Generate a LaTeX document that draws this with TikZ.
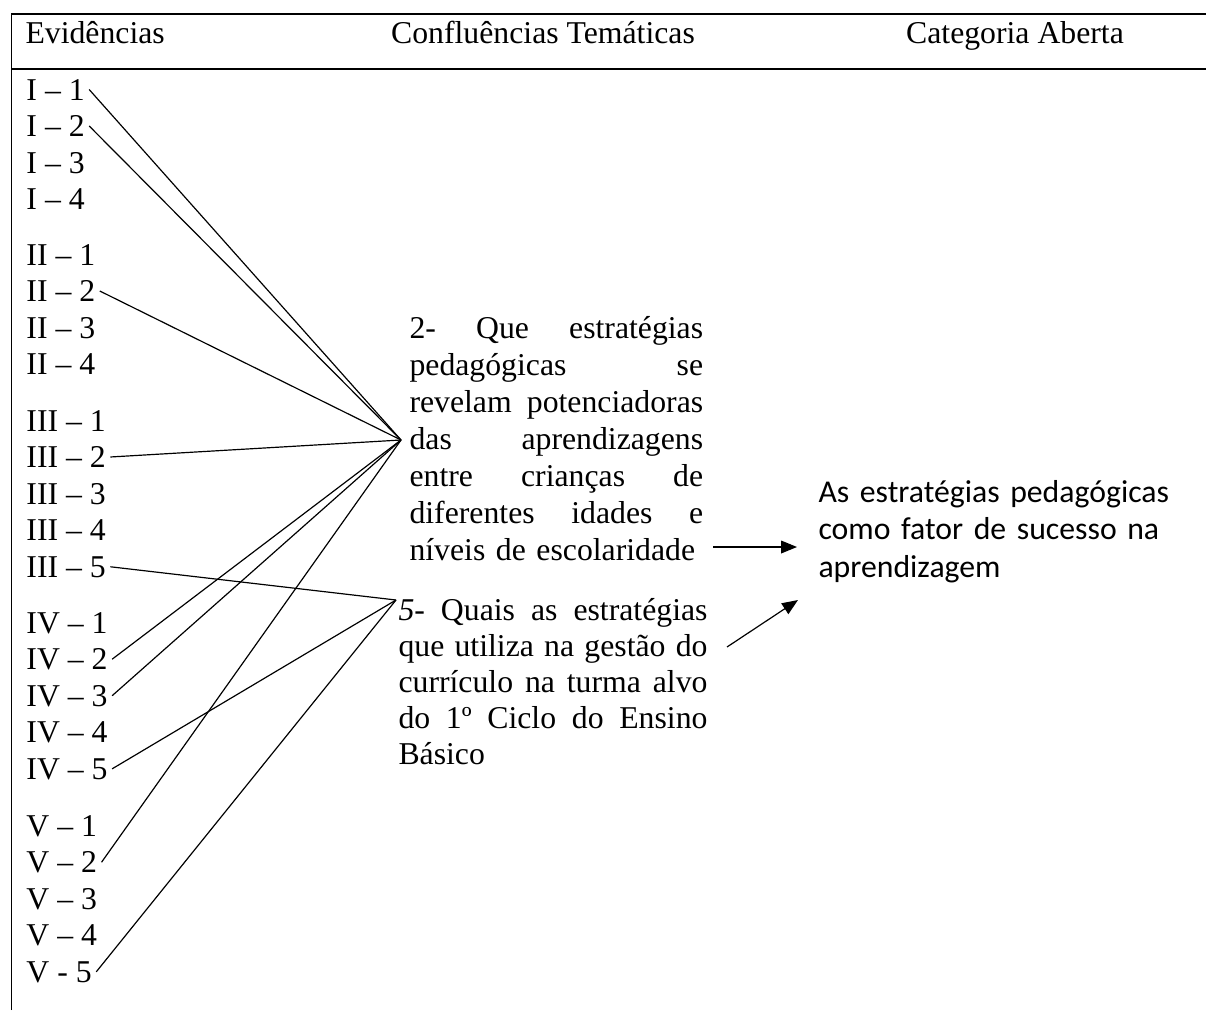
\documentclass[tikz,border=0pt]{standalone}
\usepackage{fontspec}
\setmainfont{Liberation Serif}
\newfontfamily\calib{Carlito}
\usetikzlibrary{arrows.meta}
\newcommand\jlineA[1]{\hbox to 111pt{#1}}
\newcommand\jlineB[1]{\hbox to 116.8pt{#1}}
\begin{document}
\begin{tikzpicture}[x=0.378pt,y=-0.378pt,
  lbl/.style={anchor=base west, inner sep=1.5pt, font=\fontsize{12pt}{14pt}\selectfont},
  head/.style={anchor=base, inner sep=0pt, font=\fontsize{12pt}{14pt}\selectfont},
  qtext/.style={anchor=base west, inner sep=0pt},
  frameline/.style={line width=0.75pt},
  link/.style={line width=0.45pt},
  arr/.style={line width=0.45pt, -{Triangle[length=6pt,width=4.8pt]}}]
\useasboundingbox (0,0) rectangle (1206,1010);
% table frame
\draw[frameline] (11.5,1010) -- (11.5,14) -- (1206,14);
\draw[frameline] (11.5,69) -- (1206,69);
% headers
\node[head, anchor=base west] (hEv) at (25,43) {Evidências};
\node[head] (hCo) at (543,43) {Confluências Temáticas};
\node[head] (hCa) at (1015,43) {Categoria Aberta};
% evidence labels
\node[lbl] (I1) at (22,100) {I – 1};
\node[lbl] (I2) at (22,136.5) {I – 2};
\node[lbl] (I3) at (22,173) {I – 3};
\node[lbl] (I4) at (22,209.5) {I – 4};
\node[lbl] (II1) at (22,265) {II – 1};
\node[lbl] (II2) at (22,301.5) {II – 2};
\node[lbl] (II3) at (22,338) {II – 3};
\node[lbl] (II4) at (22,374.5) {II – 4};
\node[lbl] (III1) at (22,431) {III – 1};
\node[lbl] (III2) at (22,467.5) {III – 2};
\node[lbl] (III3) at (22,504) {III – 3};
\node[lbl] (III4) at (22,540.5) {III – 4};
\node[lbl] (III5) at (22,577) {III – 5};
\node[lbl] (IV1) at (22,633) {IV – 1};
\node[lbl] (IV2) at (22,669.5) {IV – 2};
\node[lbl] (IV3) at (22,706) {IV – 3};
\node[lbl] (IV4) at (22,742.5) {IV – 4};
\node[lbl] (IV5) at (22,779) {IV – 5};
\node[lbl] (V1) at (22,836) {V – 1};
\node[lbl] (V2) at (22,872.5) {V – 2};
\node[lbl] (V3) at (22,909) {V – 3};
\node[lbl] (V4) at (22,945.5) {V – 4};
\node[lbl] (V5) at (22,982) {V - 5};
% thematic confluences
\node[qtext, text width=111pt, font=\fontsize{12pt}{14pt}\selectfont] (q2) at (409,338) {%
\jlineA{2-\hfill Que\hfill estratégias}\par
\jlineA{pedagógicas\hfill se}\par
\jlineA{revelam\hfill potenciadoras}\par
\jlineA{das\hfill aprendizagens}\par
\jlineA{entre\hfill crianças\hfill de}\par
\jlineA{diferentes\hfill idades\hfill e}\par
níveis de escolaridade\par};
\node[qtext, text width=116.8pt, font=\fontsize{12pt}{13.7pt}\selectfont] (q5) at (398,620) {%
\jlineB{\textit{5}-\hfill Quais\hfill as\hfill estratégias}\par
\jlineB{que\hfill utiliza\hfill na\hfill gestão\hfill do}\par
\jlineB{currículo\hfill na\hfill turma\hfill alvo}\par
\jlineB{do\hfill 1º\hfill Ciclo\hfill do\hfill Ensino}\par
Básico\par};
% open category
\node[qtext, text width=150pt, font=\calib\fontsize{12pt}{14.2pt}\selectfont] (cat) at (818,502) {%
As estratégias pedagógicas\par
como fator de sucesso na\par
aprendizagem\par};
% hubs
\coordinate (h1) at (401,440);
\coordinate (h2) at (396,600);
\foreach \n in {I1,I2,II2,III2,IV2,IV3,V2} \draw[link] (\n.east) -- (h1);
\foreach \n in {III5,IV5,V5} \draw[link] (\n.east) -- (h2);
% arrows to category
\coordinate (a1s) at (713,547);
\coordinate (a1e) at (797,547);
\coordinate (a2s) at (727,647);
\coordinate (a2e) at (798,600);
\draw[arr] (a1s) -- (a1e);
\draw[arr] (a2s) -- (a2e);
\end{tikzpicture}
\end{document}
